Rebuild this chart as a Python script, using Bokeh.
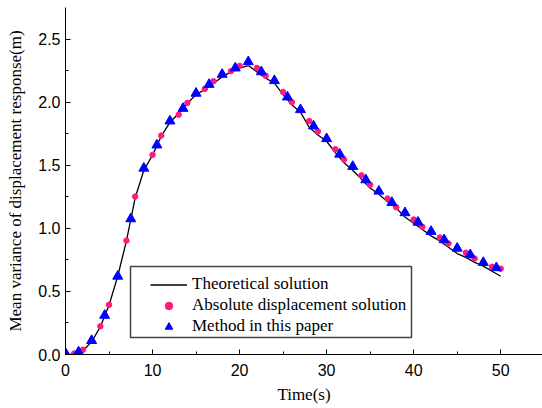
from bokeh.plotting import figure
from bokeh.embed import file_html
from bokeh.resources import INLINE
from bokeh.models import FixedTicker, PrintfTickFormatter, BoxAnnotation

# Theoretical solution (line), t = 0..50 s step 1
t_line = list(range(0, 51))
y_line = [0.0, 0.0, 0.03, 0.10, 0.22, 0.39, 0.62, 0.90, 1.24, 1.46,
          1.58, 1.73, 1.84, 1.91, 1.99, 2.06, 2.10, 2.15, 2.20, 2.24,
          2.27, 2.29, 2.24, 2.19, 2.15, 2.06, 1.98, 1.92, 1.80, 1.74,
          1.69, 1.60, 1.52, 1.46, 1.39, 1.32, 1.27, 1.21, 1.16, 1.09,
          1.04, 0.99, 0.94, 0.90, 0.85, 0.80, 0.77, 0.73, 0.70, 0.66,
          0.62]

# Absolute displacement solution (pink circles), t = 0..50 s step 1
t_abs = list(range(0, 51))
y_abs = [0.0, 0.008, 0.037, 0.11, 0.224, 0.394, 0.62, 0.903, 1.252, 1.476,
         1.582, 1.735, 1.85, 1.90, 1.994, 2.07, 2.105, 2.166, 2.22, 2.245,
         2.287, 2.31, 2.27, 2.21, 2.17, 2.08, 2.0, 1.94, 1.851, 1.767,
         1.71, 1.627, 1.545, 1.49, 1.42, 1.345, 1.294, 1.236, 1.167, 1.123,
         1.07, 1.012, 0.975, 0.927, 0.88, 0.842, 0.806, 0.761, 0.729, 0.695,
         0.68]

# Method in this paper (blue triangles), t = 0..49.5 s step 1.5
t_tri = [0, 1.5, 3, 4.5, 6, 7.5, 9, 10.5, 12, 13.5, 15, 16.5, 18, 19.5, 21,
         22.5, 24, 25.5, 27, 28.5, 30, 31.5, 33, 34.5, 36, 37.5, 39, 40.5,
         42, 43.5, 45, 46.5, 48, 49.5]
y_tri = [0.01, 0.02, 0.11, 0.31, 0.62, 1.075, 1.476, 1.66, 1.85, 1.95,
         2.07, 2.14, 2.22, 2.27, 2.32, 2.24, 2.17, 2.04, 1.94, 1.81,
         1.71, 1.587, 1.49, 1.384, 1.294, 1.204, 1.123, 1.048, 0.975, 0.909,
         0.842, 0.79, 0.729, 0.687]

x_ticks = [0, 10, 20, 30, 40, 50]
x_minor = [5, 15, 25, 35, 45]
y_ticks = [0.0, 0.5, 1.0, 1.5, 2.0, 2.5]
y_minor = [0.25, 0.75, 1.25, 1.75, 2.25]

p = figure(width=542, height=408, x_range=(0, 54.8), y_range=(0, 2.75),
           output_backend="svg", toolbar_location=None,
           min_border_left=65, min_border_right=0, min_border_top=7,
           min_border_bottom=54)
p.outline_line_color = None
p.xgrid.grid_line_color = None
p.ygrid.grid_line_color = None

p.line(t_line, y_line, line_color="black", line_width=1.3,
       legend_label="Theoretical solution")
p.scatter(t_abs, y_abs, marker="circle", size=5.5, fill_color="#FF1A80",
          line_color="#FF1A80", legend_label="Absolute displacement solution")
p.scatter(t_tri, y_tri, marker="triangle", size=10, fill_color="#0000FF",
          line_color="#0000FF", legend_label="Method in this paper")

p.xaxis.ticker = FixedTicker(ticks=x_ticks, minor_ticks=x_minor)
p.yaxis.ticker = FixedTicker(ticks=y_ticks, minor_ticks=y_minor)
p.yaxis.formatter = PrintfTickFormatter(format="%.1f")

for ax in (p.xaxis[0], p.yaxis[0]):
    ax.major_tick_in = 5
    ax.major_tick_out = 0
    ax.minor_tick_in = 3
    ax.minor_tick_out = 0
    ax.axis_line_color = "black"
    ax.major_tick_line_color = "black"
    ax.minor_tick_line_color = "black"
    ax.major_label_text_font = "Liberation Sans"
    ax.major_label_text_font_size = "16px"
    ax.major_label_text_color = "black"
    ax.axis_label_text_font = "Liberation Serif"
    ax.axis_label_text_font_size = "17px"
    ax.axis_label_text_font_style = "normal"
    ax.axis_label_text_color = "black"

p.xaxis.axis_label = "Time(s)"
p.yaxis.axis_label = "Mean variance of displacement response(m)"
p.xaxis.major_label_standoff = 9
p.xaxis.axis_label_standoff = 6
p.yaxis.major_label_standoff = 5
p.yaxis.axis_label_standoff = 10

lg = p.legend[0]
lg.location = (82, 15)
lg.padding = 3
lg.spacing = 1
lg.label_height = 19
lg.glyph_height = 19
lg.glyph_width = 37
lg.label_standoff = 5
lg.label_text_font = "Liberation Serif"
lg.label_text_font_size = "17px"
lg.label_text_color = "black"
lg.border_line_alpha = 0
lg.background_fill_alpha = 0
lg.margin = 0

# legend frame
legend_frame = BoxAnnotation(left=7.47, right=39.75, bottom=0.135, top=0.697,
                             fill_alpha=0, line_color="#444444",
                             line_alpha=1.0, line_width=1.5, level="overlay")
p.add_layout(legend_frame)

open("out.html", "w").write(file_html(p, INLINE))
